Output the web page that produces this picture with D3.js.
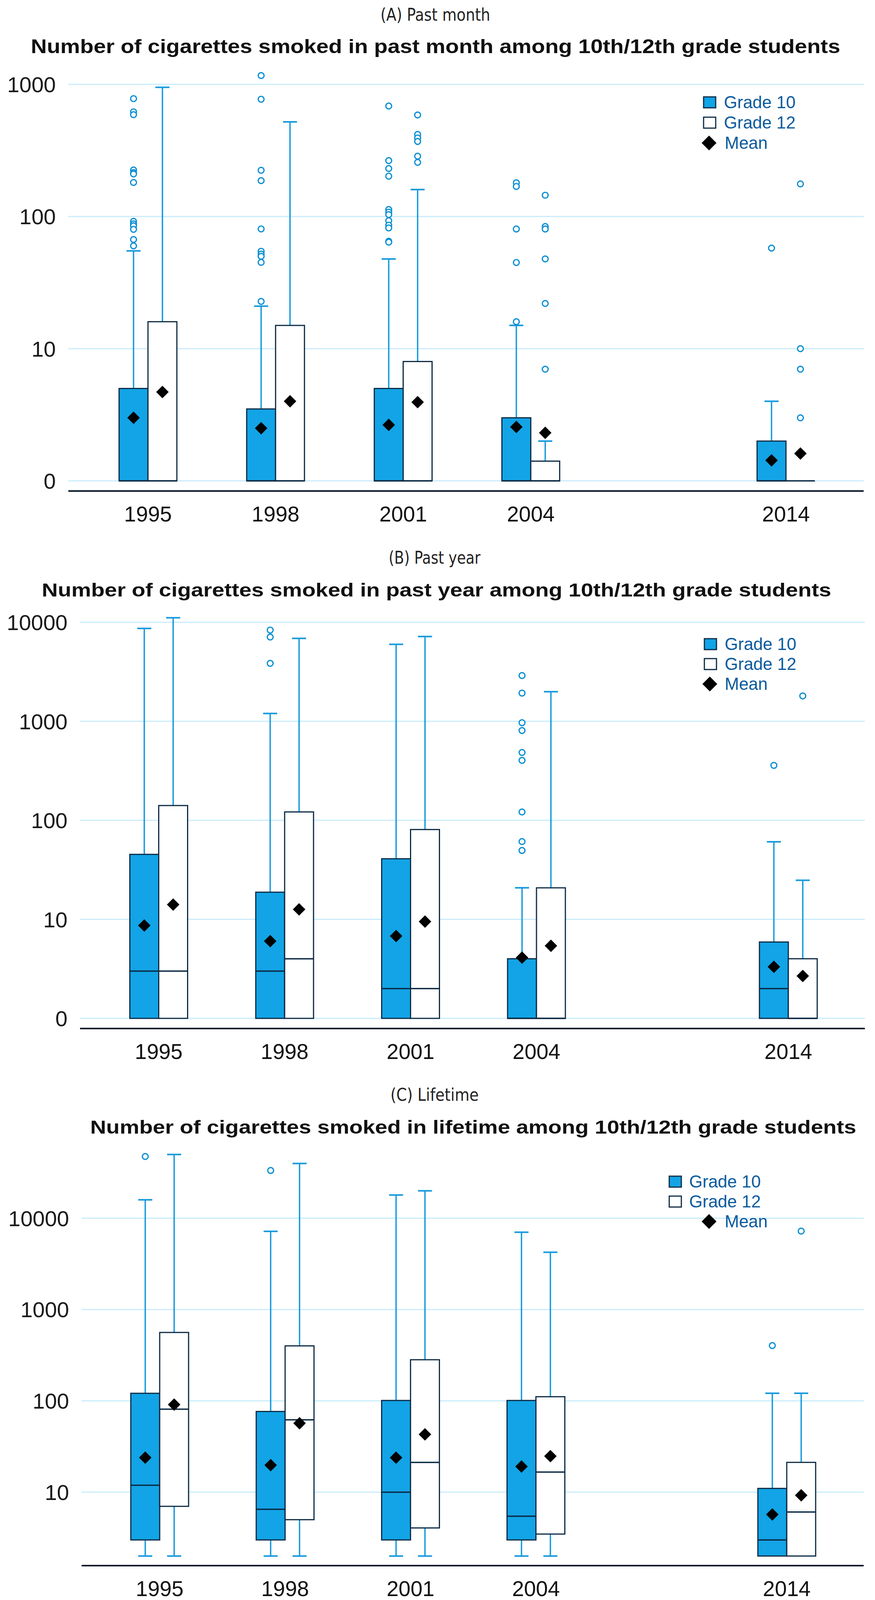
<!DOCTYPE html>
<html>
<head>
<meta charset="utf-8">
<script src="https://cdn.jsdelivr.net/npm/d3@7"></script>
<style>
  body { margin: 0; background: #fff; }
  svg { display: block; }
</style>
</head>
<body>
<svg id="chart" width="2241" height="4105"></svg>
<script>
// categories: 2014 sits one empty slot after 2004
const years = ["1995", "1998", "2001", "2004", "2014"];
const yearSlot = [0, 1, 2, 3, 5];
const legendLabels = ["Grade 10", "Grade 12", "Mean"];

// box rows per year: [low whisker, Q1, median, Q3, high whisker]
// (A) past month
const monthG10Box = [[0, 0, 0, 5, 55], [0, 0, 0, 3.5, 21], [0, 0, 0, 5, 47.7], [0, 0, 0, 3, 15], [0, 0, 0, 2, 4]];
const monthG12Box = [[0, 0, 0, 16, 950], [0, 0, 0, 15, 520], [0, 0, 0, 8, 160], [0, 0, 0, 1.41, 2], [0, 0, 0, 0, 0]];
const monthG10Mean = [3.0, 2.5, 2.65, 2.56, 1.43];
const monthG12Mean = [4.7, 4.0, 3.94, 2.31, 1.61];
const monthG10Out = [
  [780, 620, 590, 225, 215, 210, 181, 92, 88, 85, 80, 67, 60],
  [1166, 772, 224, 187, 80.6, 54.6, 52, 50, 45, 22.8],
  [686, 265, 231, 202, 113, 108, 103.5, 93, 86, 82, 65, 64],
  [180, 169, 80.5, 44.9, 16],
  [57.7]
];
const monthG12Out = [
  [],
  [],
  [587, 418, 393, 370, 286, 257],
  [145, 84, 80.5, 47.8, 22, 7],
  [176.5, 10, 7, 3]
];

// (B) past year
const yearG10Box = [[0, 0, 3, 45.3, 8670], [0, 0, 3, 18.8, 1200], [0, 0, 2, 40.9, 5990], [0, 0, 0, 4, 20.8], [0, 0, 2, 5.9, 60.7]];
const yearG12Box = [[0, 0, 3, 141, 11090], [0, 0, 4, 121.5, 6870], [0, 0, 2, 80.7, 7180], [0, 0, 0, 20.8, 1990], [0, 0, 0, 4, 24.8]];
const yearG10Mean = [8.67, 6.03, 6.78, 4.11, 3.32];
const yearG12Mean = [14.1, 12.6, 9.5, 5.4, 2.68];
const yearG10Out = [
  [],
  [8340, 7090, 3850],
  [],
  [2897, 1927, 968, 807, 484, 403, 121.5, 61, 49.6],
  [359]
];
const yearG12Out = [[], [], [], [], [1804]];

// (C) lifetime
const lifeG10Box = [[2, 3, 11.9, 121, 15900], [2, 3, 6.5, 76.5, 7180], [2, 3, 10, 101, 17950], [2, 3, 5.46, 101, 7030], [2, 2, 3, 11, 121]];
const lifeG12Box = [[2, 7, 81, 561, 49800], [2, 5, 62, 400, 39700], [2, 4.06, 21.2, 282, 19950], [2, 3.48, 16.6, 111, 4240], [2, 2, 6.07, 21.2, 121]];
const lifeG10Mean = [23.9, 19.8, 23.9, 19.1, 5.7];
const lifeG12Mean = [91, 56.9, 43, 24.8, 9.25];
const lifeG10Out = [[47400], [33300], [], [], [403]];
const lifeG12Out = [[], [], [], [], [7220]];

// y ticks ("0" is drawn at 1 on the log axis)
const monthTicks = [1, 10, 100, 1000];
const yearTicks = [1, 10, 100, 1000, 10000];
const lifeTicks = [10, 100, 1000, 10000];
const tickLabel = v => v === 1 ? "0" : String(v);

const blue = "#12a4e6";
const dark = "#0c2a44";
const whiskerCol = "#1499dc";
const outlierCol = "#0a8fd2";
const gridCol = "#c9ecfb";
const legendText = "#0a5b9e";

const svg = d3.select("#chart");

function diamond(r) {
  return "M0," + (-r) + "L" + r + ",0L0," + r + "L" + (-r) + ",0Z";
}

function drawPanel(p) {
  const g = svg.append("g");

  const x = d3.scaleLinear().domain([0, 5]).range([p.c0, p.c0 + 5 * p.sp]);
  const y = d3.scaleLog().domain(p.yDomain).range(p.yRange);
  const yv = v => y(Math.max(v, 1));
  const half = 37;

  // headings
  g.append("text")
      .attr("x", p.subX).attr("y", p.subY)
      .attr("text-anchor", "middle")
      .attr("textLength", p.subW).attr("lengthAdjust", "spacingAndGlyphs")
      .style("font-family", "'Liberation Sans Narrow', 'DejaVu Sans Condensed', sans-serif")
      .style("font-size", "44px")
      .style("fill", "#222")
      .text(p.subtitle);
  g.append("text")
      .attr("x", p.titleX).attr("y", p.titleY)
      .attr("textLength", p.titleW).attr("lengthAdjust", "spacingAndGlyphs")
      .style("font-family", "'Liberation Sans', Arial, sans-serif")
      .style("font-weight", "bold")
      .style("font-size", p.titleSize + "px")
      .style("fill", "#111")
      .text(p.title);

  // gridlines + tick labels
  g.selectAll(".grid")
      .data(p.ticks)
      .enter().append("line")
      .attr("x1", p.left).attr("x2", p.right)
      .attr("y1", d => y(d)).attr("y2", d => y(d))
      .attr("stroke", gridCol).attr("stroke-width", 3);
  g.selectAll(".ytick")
      .data(p.ticks)
      .enter().append("text")
      .attr("x", p.left - 32).attr("y", d => y(d) + 20)
      .attr("text-anchor", "end")
      .style("font-family", "'Liberation Sans', Arial, sans-serif")
      .style("font-size", "56px")
      .style("fill", "#1a1a1a")
      .text(tickLabel);

  // x axis
  g.append("line")
      .attr("x1", p.left).attr("x2", p.right)
      .attr("y1", p.axisY).attr("y2", p.axisY)
      .attr("stroke", "#08182a").attr("stroke-width", 4);
  g.selectAll(".xtick")
      .data(years)
      .enter().append("text")
      .attr("x", (d, i) => x(yearSlot[i]))
      .attr("y", p.axisY + 78)
      .attr("text-anchor", "middle")
      .style("font-family", "'Liberation Sans', Arial, sans-serif")
      .style("font-size", "55px")
      .style("fill", "#111")
      .text(d => d);

  const groups = [
    {box: p.g10Box, mean: p.g10Mean, out: p.g10Out, off: -half, fill: blue},
    {box: p.g12Box, mean: p.g12Mean, out: p.g12Out, off: half, fill: "#fff"}
  ];

  groups.forEach(function(s) {
    const rows = s.box.map((b, i) => ({b: b, cx: x(yearSlot[i]) + s.off}));

    // whiskers and caps
    rows.forEach(function(r) {
      const b = r.b;
      const segs = [];
      if (b[4] > b[3]) segs.push([b[3], b[4]]);
      if (b[0] < b[1]) segs.push([b[0], b[1]]);
      segs.forEach(function(sg) {
        g.append("line")
            .attr("x1", r.cx).attr("x2", r.cx)
            .attr("y1", yv(sg[0])).attr("y2", yv(sg[1]))
            .attr("stroke", whiskerCol).attr("stroke-width", 3.5);
      });
      [b[0], b[4]].forEach(function(v, k) {
        if ((k === 0 && b[0] < b[1]) || (k === 1 && b[4] > b[3])) {
          g.append("line")
              .attr("x1", r.cx - 18).attr("x2", r.cx + 18)
              .attr("y1", yv(v)).attr("y2", yv(v))
              .attr("stroke", whiskerCol).attr("stroke-width", 4);
        }
      });
    });

    // boxes
    g.selectAll(null)
        .data(rows)
        .enter().append("rect")
        .attr("x", d => d.cx - half)
        .attr("width", half * 2)
        .attr("y", d => yv(d.b[3]))
        .attr("height", d => yv(d.b[1]) - yv(d.b[3]))
        .attr("fill", s.fill)
        .attr("stroke", dark).attr("stroke-width", 3);

    // medians
    g.selectAll(null)
        .data(rows)
        .enter().append("line")
        .attr("x1", d => d.cx - half).attr("x2", d => d.cx + half)
        .attr("y1", d => yv(d.b[2])).attr("y2", d => yv(d.b[2]))
        .attr("stroke", dark).attr("stroke-width", 3.5);

    // outliers
    s.out.forEach(function(list, i) {
      g.selectAll(null)
          .data(list)
          .enter().append("circle")
          .attr("cx", x(yearSlot[i]) + s.off)
          .attr("cy", d => yv(d))
          .attr("r", 7.5)
          .attr("fill", "#fff")
          .attr("stroke", outlierCol).attr("stroke-width", 3.2);
    });

    // means
    g.selectAll(null)
        .data(s.mean)
        .enter().append("path")
        .attr("d", diamond(16))
        .attr("transform", (d, i) => "translate(" + (x(yearSlot[i]) + s.off) + "," + yv(d) + ")")
        .attr("fill", "#000");
  });

  // legend
  const lg = p.legend;
  lg.rows.forEach(function(ry, i) {
    if (i < 2) {
      g.append("rect")
          .attr("x", lg.boxX).attr("y", ry - 14)
          .attr("width", 31).attr("height", 28)
          .attr("fill", i === 0 ? blue : "#fff")
          .attr("stroke", dark).attr("stroke-width", 3);
    } else {
      g.append("path")
          .attr("d", diamond(19))
          .attr("transform", "translate(" + lg.meanX + "," + ry + ")")
          .attr("fill", "#000");
    }
    g.append("text")
        .attr("x", i < 2 ? lg.textX : lg.meanTextX)
        .attr("y", ry + 15)
        .style("font-family", "'Liberation Sans', Arial, sans-serif")
        .style("font-size", "44px")
        .style("fill", legendText)
        .text(legendLabels[i]);
  });
}

drawPanel({
  subtitle: "(A) Past month", subX: 1115, subY: 53, subW: 281,
  title: "Number of cigarettes smoked in past month among 10th/12th grade students",
  titleX: 79, titleY: 136, titleW: 2073, titleSize: 50,
  left: 175, right: 2212, c0: 379, sp: 326.8,
  yDomain: [1, 1000], yRange: [1231, 216], axisY: 1257, ticks: monthTicks,
  g10Box: monthG10Box, g12Box: monthG12Box, g10Mean: monthG10Mean, g12Mean: monthG12Mean,
  g10Out: monthG10Out, g12Out: monthG12Out,
  legend: {boxX: 1802, textX: 1854, meanX: 1816, meanTextX: 1856, rows: [262, 314, 366]}
});

drawPanel({
  subtitle: "(B) Past year", subX: 1113, subY: 1443, subW: 235,
  title: "Number of cigarettes smoked in past year among 10th/12th grade students",
  titleX: 107, titleY: 1527, titleW: 2022, titleSize: 48,
  left: 205, right: 2215, c0: 406.5, sp: 322.5,
  yDomain: [1, 10000], yRange: [2607, 1593], axisY: 2633, ticks: yearTicks,
  g10Box: yearG10Box, g12Box: yearG12Box, g10Mean: yearG10Mean, g12Mean: yearG12Mean,
  g10Out: yearG10Out, g12Out: yearG12Out,
  legend: {boxX: 1804, textX: 1856, meanX: 1818, meanTextX: 1856, rows: [1649, 1700, 1751]}
});

drawPanel({
  subtitle: "(C) Lifetime", subX: 1113, subY: 2818, subW: 226,
  title: "Number of cigarettes smoked in lifetime among 10th/12th grade students",
  titleX: 231, titleY: 2902, titleW: 1962, titleSize: 48,
  left: 209, right: 2212, c0: 409, sp: 321.2,
  yDomain: [10, 10000], yRange: [3820, 3118.6], axisY: 4008, ticks: lifeTicks,
  g10Box: lifeG10Box, g12Box: lifeG12Box, g10Mean: lifeG10Mean, g12Mean: lifeG12Mean,
  g10Out: lifeG10Out, g12Out: lifeG12Out,
  legend: {boxX: 1714, textX: 1765, meanX: 1816, meanTextX: 1856, rows: [3025, 3076, 3127]}
});
</script>
</body>
</html>
